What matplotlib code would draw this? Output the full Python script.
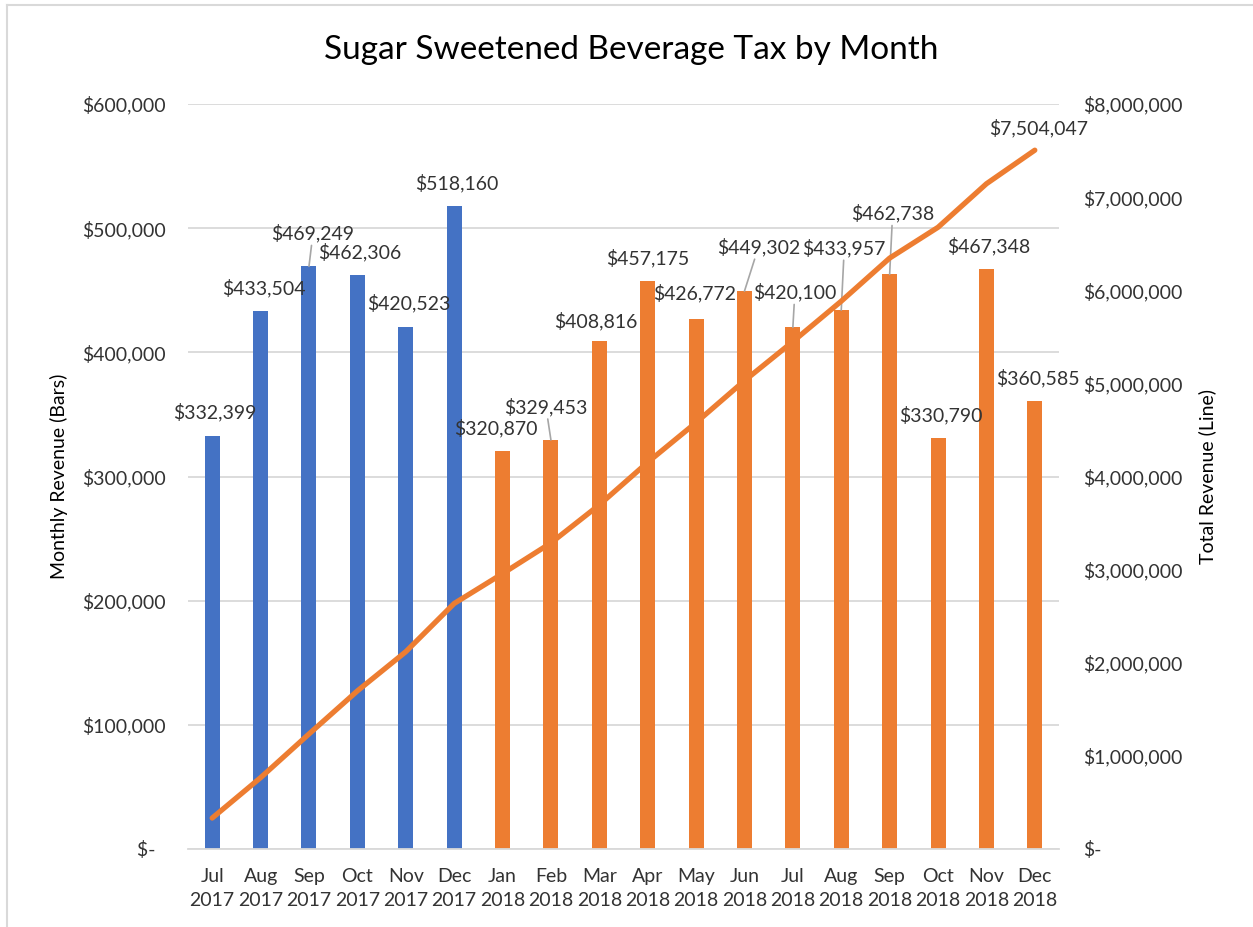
import matplotlib
matplotlib.use("Agg")
import matplotlib.pyplot as plt
from matplotlib.ticker import FuncFormatter, MultipleLocator
from matplotlib.lines import Line2D

# data
months = ["Jul", "Aug", "Sep", "Oct", "Nov", "Dec", "Jan", "Feb", "Mar",
          "Apr", "May", "Jun", "Jul", "Aug", "Sep", "Oct", "Nov", "Dec"]
years = ["2017"] * 6 + ["2018"] * 12
monthly = [332399, 433504, 469249, 462306, 420523, 518160, 320870, 329453, 408816,
           457175, 426772, 449302, 420100, 433957, 462738, 330790, 467348, 360585]
total = [332399, 765903, 1235152, 1697458, 2117981, 2636141, 2957011, 3286464, 3695280,
         4152455, 4579227, 5028529, 5448629, 5882586, 6345324, 6676114, 7143462, 7504047]

BLUE = "#4472C4"
ORANGE = "#ED7D31"
TXT = "#333333"
GRID = "#D9D9D9"

# label offsets in pixels (dx, dy above bar top) and whether a leader line is drawn
label_off = [(3, 24), (3, 23), (4, 33), (2, 23), (3, 24), (3, 23), (-7, 23), (-5, 33), (-4, 20),
             (0, 23), (-1, 26), (14, 44), (2, 35), (3, 62), (3, 61), (3, 23), (2, 23), (3, 23)]
leader = [False, False, True, False, False, False, False, True, False,
          False, False, True, True, True, True, False, False, False]

plt.rcParams["font.family"] = ["Lato", "DejaVu Sans"]
plt.rcParams["font.size"] = 14

fig = plt.figure(figsize=(12.53, 9.27), dpi=100)
ax = fig.add_axes([188 / 1253, 1 - 849 / 927, 871 / 1253, 745 / 927])
ax2 = ax.twinx()

x = list(range(len(months)))
colors = [BLUE if y == "2017" else ORANGE for y in years]
ax.bar(x, monthly, width=0.31, color=colors, zorder=2)

ax.set_xlim(-0.5, len(months) - 0.5)
ax.set_ylim(0, 600000)
ax.yaxis.set_major_locator(MultipleLocator(100000))
ax.grid(axis="y", color=GRID, linewidth=1.3, zorder=0)
ax.set_axisbelow(True)


def money(v, pos=None):
    if v == 0:
        return "$-  "
    return "${:,.0f}".format(v)


ax.yaxis.set_major_formatter(FuncFormatter(money))
ax.set_xticks(x)
ax.set_xticklabels([m + "\n" + y for m, y in zip(months, years)], color=TXT, linespacing=1.5)
ax.tick_params(axis="x", length=0, pad=14)
ax.tick_params(axis="y", length=0, pad=16, labelcolor=TXT)
for s in ["top", "right", "left"]:
    ax.spines[s].set_visible(False)
ax.spines["bottom"].set_color(GRID)
ax.spines["bottom"].set_linewidth(1.3)

for i, v in enumerate(monthly):
    dx, dy = label_off[i]
    props = None
    if leader[i]:
        props = dict(arrowstyle="-", color="#A6A6A6", lw=1.2, shrinkA=0, shrinkB=0)
    ax.annotate("${:,}".format(v), xy=(i, v), xytext=(dx, dy), textcoords="offset pixels",
                ha="center", va="center", color=TXT, fontsize=14, arrowprops=props, zorder=3)

ax2.plot(x, total, color=ORANGE, linewidth=3.8, solid_capstyle="round", solid_joinstyle="round")
ax2.set_ylim(0, 8000000)
ax2.yaxis.set_major_locator(MultipleLocator(1000000))
ax2.yaxis.set_major_formatter(FuncFormatter(lambda v, p: "$-" if v == 0 else "${:,.0f}".format(v)))
ax2.tick_params(axis="y", length=0, pad=17, labelcolor=TXT)
for s in ax2.spines.values():
    s.set_visible(False)
ax2.annotate("${:,}".format(total[-1]), xy=(x[-1], total[-1]), xytext=(4, 22),
             textcoords="offset pixels", ha="center", va="center", color=TXT, fontsize=14)

ax.set_ylabel("Monthly Revenue (Bars)", color="black", fontsize=14)
ax.yaxis.set_label_coords(-0.138, 0.5)
ax2.set_ylabel("Total Revenue (Line)", color="black", fontsize=14)
ax2.yaxis.set_label_coords(1.16, 0.5)

fig.text(631 / 1253, 1 - 50 / 927, "Sugar Sweetened Beverage Tax by Month",
         ha="center", va="center", fontsize=24, color="black")

# chart area border (left and top edges visible in the crop)
fig.add_artist(Line2D([7 / 1253, 7 / 1253], [0, 1 - 5 / 927], color=GRID, lw=1.5))
fig.add_artist(Line2D([7 / 1253, 1], [1 - 5 / 927, 1 - 5 / 927], color=GRID, lw=1.5))

fig.savefig("out.png", dpi=100)
